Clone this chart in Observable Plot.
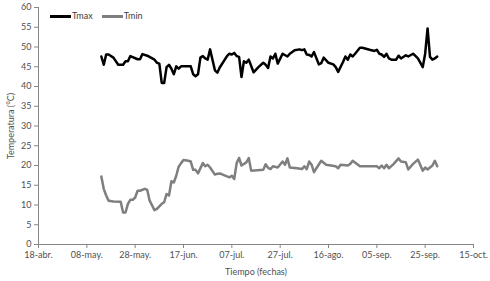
<!DOCTYPE html>
<html><head><meta charset="utf-8">
<script src="https://cdn.jsdelivr.net/npm/d3@7"></script>
<script src="https://cdn.jsdelivr.net/npm/@observablehq/plot@0.6"></script>
<style>
body{margin:0;background:#fff;}
#wrap{position:relative;width:490px;height:281px;font-family:Lato, "Open Sans", sans-serif;}
.legend{position:absolute;left:50px;top:10px;font-size:9px;color:#404040;display:flex;align-items:center;line-height:12px;}
.sw{display:inline-block;width:21px;height:0;border-top:3px solid #000;margin-right:1px;}
.sw.g{border-top-color:#7f7f7f;margin-left:9px;}
</style></head><body><div id="wrap"></div>
<script>
const year = "2013";
const seriesNames = ["Tmax", "Tmin"];
const tmaxDates = ["05-14","05-15","05-16","05-17","05-19","05-21","05-23","05-24","05-25","05-26","05-29","05-30","05-31","06-02","06-05","06-06","06-07","06-08","06-09","06-10","06-11","06-12","06-13","06-14","06-15","06-16","06-20","06-21","06-22","06-23","06-24","06-25","06-26","06-27","06-28","06-30","07-01","07-02","07-05","07-06","07-07","07-08","07-09","07-10","07-11","07-12","07-13","07-14","07-16","07-18","07-20","07-21","07-22","07-23","07-24","07-25","07-26","07-28","07-30","07-31","08-02","08-04","08-05","08-06","08-07","08-08","08-09","08-10","08-12","08-13","08-14","08-16","08-18","08-19","08-20","08-22","08-23","08-24","08-25","08-26","08-27","08-29","08-30","09-02","09-04","09-05","09-06","09-07","09-08","09-09","09-10","09-11","09-13","09-14","09-15","09-17","09-18","09-20","09-22","09-24","09-25","09-26","09-27","09-28","09-29","09-30"];
const tmaxValues = [47.6,45.5,48.1,48.1,47.3,45.5,45.5,46.4,46.4,47.7,46.9,46.9,48.2,47.8,46.8,46.0,45.8,40.9,40.9,44.9,45.5,44.5,43.1,45.1,44.5,45.1,45.1,43.1,42.6,43.1,47.3,47.7,47.1,46.8,49.4,44.1,43.5,44.8,47.7,48.3,48.1,48.5,47.7,47.5,42.4,46.4,46.0,46.8,43.6,44.9,46.0,45.5,44.7,47.6,47.1,48.3,45.8,48.3,47.6,48.3,49.2,49.4,49.2,49.4,48.1,48.0,47.6,48.7,45.6,45.9,47.3,46.0,45.6,44.9,43.7,46.2,47.6,46.8,48.1,47.6,48.3,49.8,49.8,49.3,49.0,49.3,48.3,48.1,47.5,48.3,47.1,46.8,46.8,47.8,47.1,47.9,47.6,48.3,47.1,44.9,48.3,54.7,47.5,46.8,47.1,47.6];
const tminDates = ["05-14","05-15","05-16","05-17","05-19","05-22","05-23","05-24","05-25","05-26","05-27","05-28","05-29","05-30","06-01","06-02","06-03","06-05","06-06","06-08","06-09","06-10","06-11","06-12","06-13","06-14","06-15","06-16","06-17","06-19","06-20","06-21","06-22","06-23","06-25","06-26","06-27","06-28","06-30","07-01","07-02","07-06","07-07","07-08","07-09","07-10","07-11","07-13","07-14","07-15","07-20","07-21","07-22","07-23","07-24","07-26","07-28","07-29","07-30","07-31","08-03","08-05","08-06","08-07","08-08","08-09","08-10","08-11","08-13","08-15","08-19","08-20","08-21","08-24","08-25","08-26","08-29","09-05","09-06","09-07","09-08","09-09","09-10","09-12","09-14","09-15","09-17","09-18","09-20","09-22","09-24","09-25","09-26","09-28","09-29","09-30"];
const tminValues = [17.2,14.1,12.4,11.1,10.9,10.8,8.1,8.1,10.3,11.3,11.3,11.9,13.6,13.6,14.1,13.8,11.1,8.7,9.0,10.3,10.7,12.8,12.4,16.0,15.7,17.4,19.7,20.6,21.4,21.2,21.0,18.9,18.9,18.0,20.6,19.8,20.2,19.5,17.7,17.9,18.0,17.0,17.4,16.6,20.6,21.9,20.0,20.8,21.9,18.7,18.9,20.3,19.4,19.1,19.8,19.5,21.0,20.2,21.8,19.5,19.3,19.1,19.8,19.1,21.0,20.2,18.3,19.3,21.2,20.2,19.8,19.3,20.2,20.0,20.4,21.2,19.8,19.8,19.3,20.0,19.3,20.2,19.3,20.4,21.8,21.0,20.8,19.0,20.4,21.5,18.7,19.5,19.0,20.0,21.2,19.8];
const xTickDates = ["04-18","05-08","05-28","06-17","07-07","07-27","08-16","09-05","09-25","10-15"];
const xTickLabels = ["18-abr.","08-may.","28-may.","17-jun.","07-jul.","27-jul.","16-ago.","05-sep.","25-sep.","15-oct."];
const yTicks = [0,5,10,15,20,25,30,35,40,45,50,55,60];

const parse = s => new Date(`${year}-${s}T00:00:00Z`);
const tmax = tmaxDates.map((d, i) => ({date: parse(d), value: tmaxValues[i]}));
const tmin = tminDates.map((d, i) => ({date: parse(d), value: tminValues[i]}));
const xTicks = xTickDates.map(parse);
const labelMap = new Map(xTicks.map((d, i) => [+d, xTickLabels[i]]));

const chart = Plot.plot({
  width: 490, height: 281,
  marginLeft: 38, marginRight: 17, marginTop: 7, marginBottom: 37,
  style: {fontFamily: "Lato, 'Open Sans', sans-serif", fontSize: "9px", color: "#505050", background: "white"},
  x: {type: "utc", domain: [xTicks[0], xTicks[xTicks.length - 1]]},
  y: {domain: [0, 60]},
  marks: [
    Plot.ruleX([xTicks[0]], {stroke: "#868686"}),
    Plot.ruleY([0], {stroke: "#868686"}),
    Plot.axisY({ticks: yTicks, tickSize: 4, tickPadding: 3, stroke: "#868686", strokeOpacity: 1, label: "Temperatura (°C)", labelArrow: false, labelAnchor: "center", labelOffset: 31}),
    Plot.axisX({ticks: xTicks, tickFormat: d => labelMap.get(+d), tickSize: 4, tickPadding: 3, stroke: "#868686", strokeOpacity: 1, label: "Tiempo (fechas)", labelArrow: false, labelAnchor: "center", labelOffset: 30}),
    Plot.line(tmin, {x: "date", y: "value", stroke: "#7f7f7f", strokeWidth: 2.5, strokeLinejoin: "round"}),
    Plot.line(tmax, {x: "date", y: "value", stroke: "#000", strokeWidth: 2.5, strokeLinejoin: "round"})
  ]
});
const wrap = document.getElementById("wrap");
wrap.appendChild(chart);
const leg = document.createElement("div");
leg.className = "legend";
leg.innerHTML = `<span class="sw"></span><span>${seriesNames[0]}</span><span class="sw g"></span><span>${seriesNames[1]}</span>`;
wrap.appendChild(leg);
</script></body></html>
